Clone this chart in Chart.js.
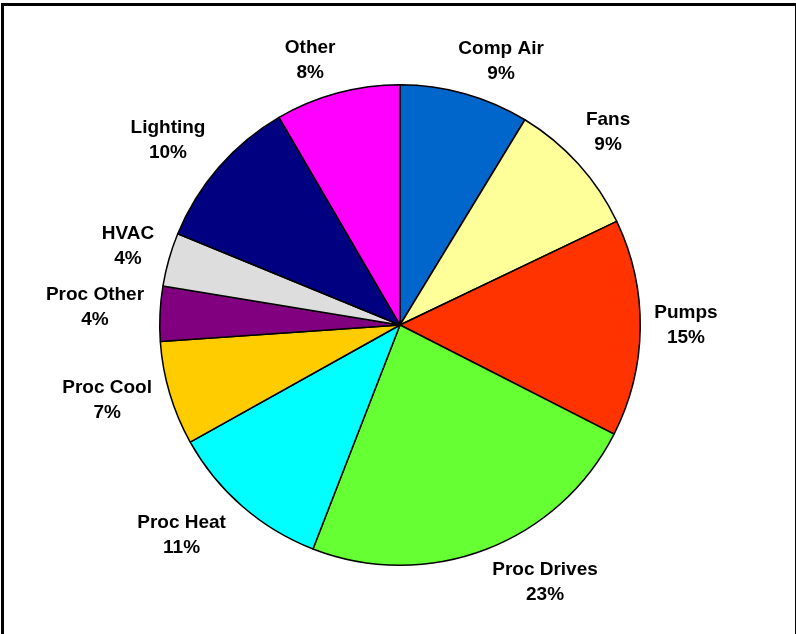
<!DOCTYPE html>
<html>
<head>
<meta charset="utf-8">
<script src="https://cdn.jsdelivr.net/npm/chart.js@4.4.0/dist/chart.umd.min.js"></script>
<style>
  html, body { margin: 0; padding: 0; background: #fff; }
  #wrap { width: 796px; height: 634px; }
</style>
</head>
<body>
<div id="wrap"><canvas id="pieChart" width="796" height="634"></canvas></div>
<script>
// end use shares (percent)
const categories = ['Comp Air', 'Fans', 'Pumps', 'Proc Drives', 'Proc Heat', 'Proc Cool', 'Proc Other', 'HVAC', 'Lighting', 'Other'];
const shares = [8.7, 9.2, 14.6, 23.4, 11.0, 7.0, 3.7, 3.6, 10.4, 8.4];
const sliceColors = ['#0066CC', '#FFFF99', '#FF3300', '#66FF33', '#00FFFF', '#FFCC00', '#800080', '#DDDDDD', '#000080', '#FF00FF'];

// small hand nudges so the labels sit where excel left them
const labelNudge = [[22, -4], [6, -11], [4, -3], [37, 5], [-25, 6], [-10, -2], [-6, -5], [-6, -5], [-15, -7], [-18, -4]];

const labelFont = 'bold 19px "Liberation Sans", Arial, sans-serif';

const frame = {
  id: 'frame',
  afterDraw(chart) {
    const c = chart.ctx;
    c.save();
    c.strokeStyle = '#000';
    c.lineWidth = 3;
    c.strokeRect(2.5, 4.5, 794, 700);
    c.restore();
  }
};

const outsideLabels = {
  id: 'outsideLabels',
  afterDatasetsDraw(chart) {
    const c = chart.ctx;
    const meta = chart.getDatasetMeta(0);
    const total = shares.reduce((a, b) => a + b, 0);
    c.save();
    c.font = labelFont;
    c.fillStyle = '#000';
    c.textAlign = 'center';
    c.textBaseline = 'middle';
    meta.data.forEach((arc, i) => {
      const p = arc.getProps(['x', 'y', 'startAngle', 'endAngle', 'outerRadius'], true);
      const mid = (p.startAngle + p.endAngle) / 2;
      const dx = Math.cos(mid), dy = Math.sin(mid);
      const name = categories[i];
      const pct = Math.round(shares[i] / total * 100) + '%';
      const w = Math.max(c.measureText(name).width, c.measureText(pct).width);
      const r = p.outerRadius + 10;
      const cx = p.x + dx * r + dx * w / 2 + labelNudge[i][0];
      const cy = p.y + dy * r + dy * 20 + labelNudge[i][1];
      c.fillText(name, cx, cy - 12.5);
      c.fillText(pct, cx, cy + 12.5);
    });
    c.restore();
  }
};

new Chart(document.getElementById('pieChart'), {
  type: 'pie',
  data: {
    labels: categories,
    datasets: [{
      data: shares,
      backgroundColor: sliceColors,
      borderColor: '#000',
      borderWidth: 1.5
    }]
  },
  options: {
    responsive: false,
    animation: false,
    layout: { padding: { top: 84, bottom: 68, left: 100, right: 96 } },
    plugins: {
      legend: { display: false },
      tooltip: { enabled: false }
    }
  },
  plugins: [outsideLabels, frame]
});
</script>
</body>
</html>
